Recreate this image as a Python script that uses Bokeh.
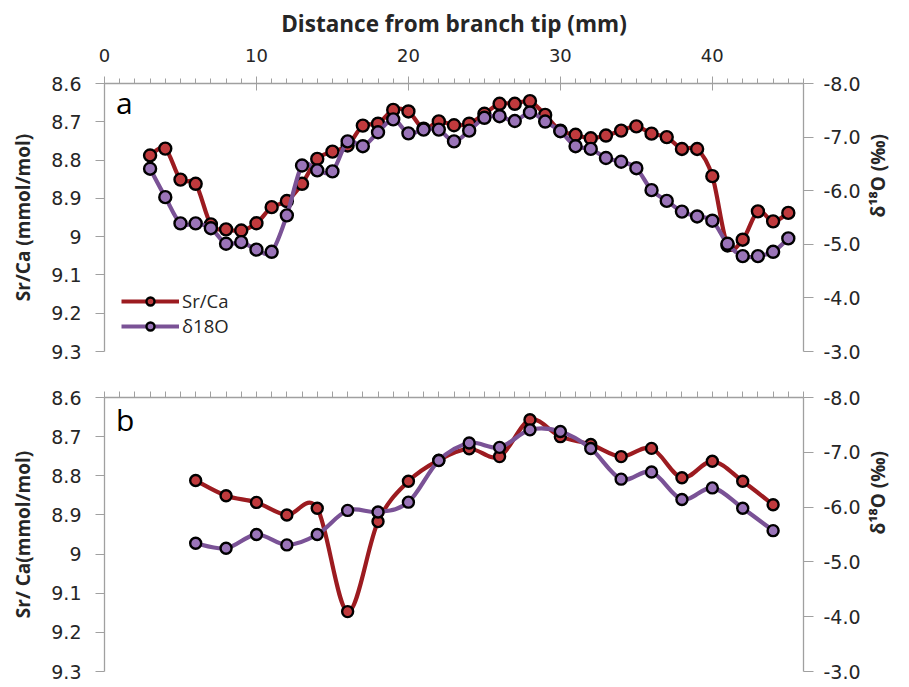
import math

from bokeh.plotting import figure
from bokeh.models import (Range1d, LinearAxis, FixedTicker, PrintfTickFormatter,
                          Legend, LegendItem, Label, ColumnDataSource)
from bokeh.layouts import column
from bokeh.embed import file_html
from bokeh.resources import INLINE

# ---- data -------------------------------------------------------------
# panel a: 1 mm sampling
DIST_A = list(range(3, 46))
SRCA_A = [8.788, 8.770, 8.851, 8.862, 8.968, 8.981, 8.984, 8.965, 8.923, 8.907,
          8.862, 8.797, 8.778, 8.762, 8.710, 8.705, 8.669, 8.673, 8.718, 8.699,
          8.709, 8.705, 8.679, 8.653, 8.653, 8.646, 8.682, 8.723, 8.734, 8.743,
          8.736, 8.723, 8.712, 8.731, 8.740, 8.771, 8.771, 8.842, 9.023, 9.008,
          8.934, 8.960, 8.938]
D18O_A = [-6.41, -5.88, -5.39, -5.39, -5.30, -5.01, -5.04, -4.90, -4.86, -5.54,
          -6.47, -6.38, -6.36, -6.92, -6.83, -7.09, -7.33, -7.07, -7.14, -7.14,
          -6.92, -7.12, -7.36, -7.39, -7.30, -7.46, -7.29, -7.11, -6.83, -6.78,
          -6.61, -6.54, -6.42, -6.01, -5.81, -5.61, -5.52, -5.44, -5.01, -4.78,
          -4.78, -4.86, -5.11]

# panel b: 2 mm sampling
DIST_B = list(range(6, 46, 2))
SRCA_B = [8.812, 8.851, 8.868, 8.900, 8.883, 9.147, 8.917, 8.814, 8.760, 8.731,
          8.751, 8.657, 8.700, 8.720, 8.751, 8.730, 8.805, 8.763, 8.814, 8.874]
D18O_B = [-5.34, -5.25, -5.50, -5.31, -5.50, -5.94, -5.91, -6.09, -6.85, -7.17,
          -7.09, -7.41, -7.38, -7.07, -6.51, -6.64, -6.14, -6.35, -5.98, -5.57]

X_MAJOR = [0, 10, 20, 30, 40]
X_MINOR = list(range(0, 47))
SR_TICKS = [8.6, 8.7, 8.8, 8.9, 9.0, 9.1, 9.2, 9.3]
SR_LABELS = ["8.6", "8.7", "8.8", "8.9", "9", "9.1", "9.2", "9.3"]
D_TICKS = [-8.0, -7.0, -6.0, -5.0, -4.0, -3.0]

RED_LINE, RED_FILL = "#9c1b20", "#c03a3d"
PUR_LINE, PUR_FILL = "#7a5296", "#9a74b8"
AXIS_COL = "#a0a0a0"
TEXT_COL = "#262626"
TICK_FONT = "DejaVu Sans"
LABEL_FONT = "Open Sans"


def smooth_source(xs, ys):
    """Bezier segments through every point (Catmull-Rom style tangents)."""
    n = len(xs)
    d = dict(x0=[], y0=[], x1=[], y1=[], cx0=[], cy0=[], cx1=[], cy1=[])
    for i in range(n - 1):
        a = max(i - 1, 0)
        b = min(i + 2, n - 1)
        d["x0"].append(xs[i]); d["y0"].append(ys[i])
        d["x1"].append(xs[i + 1]); d["y1"].append(ys[i + 1])
        d["cx0"].append(xs[i] + (xs[i + 1] - xs[a]) / 6.0)
        d["cy0"].append(ys[i] + (ys[i + 1] - ys[a]) / 6.0)
        d["cx1"].append(xs[i + 1] - (xs[b] - xs[i]) / 6.0)
        d["cy1"].append(ys[i + 1] - (ys[b] - ys[i]) / 6.0)
    return ColumnDataSource(d)


def make_panel(height, border_top, border_bottom, show_x_labels, ylabel, tag, tag_y):
    p = figure(width=909, height=height, x_range=Range1d(0, 46),
               y_range=Range1d(9.3, 8.6), x_axis_location="above",
               output_backend="svg", toolbar_location=None,
               min_border_left=104, min_border_right=106,
               min_border_top=border_top, min_border_bottom=border_bottom)
    p.extra_y_ranges = {"d18o": Range1d(-3.0, -8.0)}
    p.outline_line_color = None
    p.xgrid.visible = False
    p.ygrid.visible = False
    p.background_fill_color = "white"
    p.border_fill_color = "white"

    # top distance axis
    xa = p.xaxis[0]
    xa.axis_line_color = AXIS_COL
    xa.major_tick_line_color = AXIS_COL
    xa.minor_tick_line_color = AXIS_COL
    xa.axis_line_width = 1.3
    xa.minor_tick_in = 0
    if show_x_labels:
        xa.ticker = FixedTicker(ticks=X_MAJOR, minor_ticks=X_MINOR)
        xa.major_tick_out = 7
        xa.major_tick_in = 7
        xa.minor_tick_out = 5
        xa.major_label_text_font = TICK_FONT
        xa.major_label_text_font_size = "18px"
        xa.major_label_text_color = TEXT_COL
        xa.major_label_standoff = 15
        xa.axis_label = "Distance from branch tip (mm)"
        xa.axis_label_text_font = LABEL_FONT
        xa.axis_label_text_font_style = "bold"
        xa.axis_label_text_font_size = "22.5px"
        xa.axis_label_text_color = TEXT_COL
        xa.axis_label_standoff = 7
    else:
        # tick marks only along the top edge
        xa.ticker = FixedTicker(ticks=[], minor_ticks=X_MINOR)
        xa.minor_tick_out = 6
        xa.major_label_standoff = 0

    # left Sr/Ca axis
    ya = p.yaxis[0]
    ya.ticker = FixedTicker(ticks=SR_TICKS, minor_ticks=[])
    ya.major_label_overrides = {t: s for t, s in zip(SR_TICKS, SR_LABELS)}
    ya.axis_line_color = AXIS_COL
    ya.axis_line_width = 1.3
    ya.major_tick_line_color = AXIS_COL
    ya.major_tick_in = 0
    ya.major_tick_out = 9
    ya.major_label_standoff = 14
    ya.major_label_text_font = TICK_FONT
    ya.major_label_text_font_size = "19px"
    ya.major_label_text_color = TEXT_COL
    ya.axis_label = ylabel
    ya.axis_label_text_font = LABEL_FONT
    ya.axis_label_text_font_style = "bold"
    ya.axis_label_text_font_size = "19px"
    ya.axis_label_text_color = TEXT_COL
    ya.axis_label_standoff = 12

    # right delta-18O axis
    ra = LinearAxis(y_range_name="d18o",
                    ticker=FixedTicker(ticks=D_TICKS, minor_ticks=[]),
                    formatter=PrintfTickFormatter(format="%.1f"))
    ra.axis_line_color = AXIS_COL
    ra.axis_line_width = 1.3
    ra.major_tick_line_color = AXIS_COL
    ra.major_tick_in = 0
    ra.major_tick_out = 10
    ra.major_label_standoff = 10
    ra.major_label_text_font = TICK_FONT
    ra.major_label_text_font_size = "19px"
    ra.major_label_text_color = TEXT_COL
    ra.axis_label = "δ¹⁸O (‰)"
    ra.axis_label_orientation = math.pi / 2
    ra.axis_label_text_font = LABEL_FONT
    ra.axis_label_text_font_style = "bold"
    ra.axis_label_text_font_size = "19px"
    ra.axis_label_text_color = TEXT_COL
    ra.axis_label_standoff = 14
    p.add_layout(ra, "right")

    p.add_layout(Label(x=0.75, y=tag_y, text=tag, text_baseline="middle",
                       text_font=LABEL_FONT, text_font_size="30px",
                       text_color="black"))
    return p


def add_series(p, xs, ys, line_col, fill_col, range_name, size):
    kw = {} if range_name is None else {"y_range_name": range_name}
    curve = p.bezier(x0="x0", y0="y0", x1="x1", y1="y1", cx0="cx0", cy0="cy0",
                     cx1="cx1", cy1="cy1", source=smooth_source(xs, ys),
                     line_color=line_col, line_width=4.2, **kw)
    pts = p.scatter(xs, ys, marker="circle", size=size, fill_color=fill_col,
                    line_color="black", line_width=2.4, **kw)
    return curve, pts


# panel a
pa = make_panel(380, 83, 29, True, "Sr/Ca (mmol/mol)", "a", 8.650)
ra_c, ra_p = add_series(pa, DIST_A, SRCA_A, RED_LINE, RED_FILL, None, 12)
pa_c, pa_p = add_series(pa, DIST_A, D18O_A, PUR_LINE, PUR_FILL, "d18o", 12)
legend = Legend(items=[LegendItem(label="Sr/Ca", renderers=[ra_c, ra_p]),
                       LegendItem(label="δ18O", renderers=[pa_c, pa_p])],
                location=(17, 13), orientation="vertical",
                glyph_width=58, glyph_height=20, label_height=20,
                label_standoff=3, spacing=0, padding=0, margin=0,
                border_line_color=None, background_fill_alpha=0,
                label_text_font=LABEL_FONT, label_text_font_size="18.5px",
                label_text_color=TEXT_COL)
pa.add_layout(legend, "center")

# panel b
pb = make_panel(307, 17, 16, False, "Sr/ Ca(mmol/mol)", "b", 8.655)
add_series(pb, DIST_B, SRCA_B, RED_LINE, RED_FILL, None, 11)
add_series(pb, DIST_B, D18O_B, PUR_LINE, PUR_FILL, "d18o", 11)

layout = column(pa, pb, spacing=0)
open("out.html", "w").write(file_html(layout, INLINE))
